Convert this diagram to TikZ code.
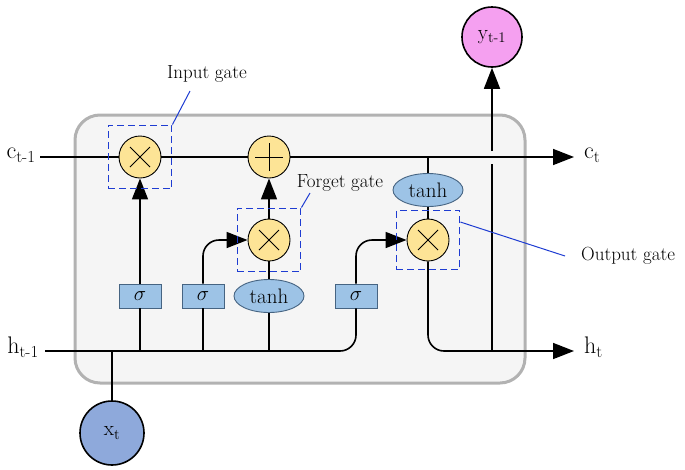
\documentclass[tikz,border=0pt]{standalone}
\usepackage{fontspec}
\usetikzlibrary{arrows.meta,shapes.geometric,fit}
\definecolor{opfill}{RGB}{253,228,150}
\definecolor{sigfill}{RGB}{157,195,230}
\definecolor{sigdraw}{RGB}{70,100,130}
\definecolor{xfill}{RGB}{142,169,219}
\definecolor{yfill}{RGB}{245,160,240}
\definecolor{gateblue}{RGB}{30,60,210}
\begin{document}
\begin{tikzpicture}[x=1pt, y=-1pt, line width=1.6pt,
  font=\fontsize{19}{21}\selectfont,
  arr/.style={-{Triangle[length=21pt,width=16pt]}},
  op/.style={circle, draw, line width=0.9pt, fill=opfill, minimum size=42pt, inner sep=0pt},
  mul/.style={op, path picture={
    \draw[line width=0.8pt] ([shift={(-10pt,-10pt)}]path picture bounding box.center) -- ([shift={(10pt,10pt)}]path picture bounding box.center);
    \draw[line width=0.8pt] ([shift={(-10pt,10pt)}]path picture bounding box.center) -- ([shift={(10pt,-10pt)}]path picture bounding box.center);}},
  add/.style={op, path picture={
    \draw[line width=0.8pt] ([xshift=-14pt]path picture bounding box.center) -- ([xshift=14pt]path picture bounding box.center);
    \draw[line width=0.8pt] ([yshift=-14pt]path picture bounding box.center) -- ([yshift=14pt]path picture bounding box.center);}},
  sig/.style={rectangle, draw=sigdraw, line width=0.9pt, fill=sigfill, minimum width=42pt, minimum height=24pt, inner sep=0pt, font=\fontsize{21}{23}\selectfont},
  th/.style={ellipse, draw=sigdraw, line width=0.9pt, fill=sigfill, minimum width=70pt, minimum height=33pt, inner sep=0pt, font=\fontsize{21}{23}\selectfont},
  gbox/.style={draw=gateblue, dashed, dash pattern=on 7pt off 4pt, line width=1pt, inner sep=10.5pt},
  lead/.style={draw=gateblue, line width=1pt},
  io/.style={font=\fontsize{24}{26}\selectfont}]

\useasboundingbox (0,0) rectangle (685,469);

% cell
\draw[line width=3pt, draw=black!30, fill=black!4, rounded corners=25pt] (75,115) rectangle (525,383);

% nodes
\node[mul] (in) at (140,157) {};
\node[add] (plus) at (269,157) {};
\node[mul] (fg) at (269,240) {};
\node[mul] (out) at (428,240) {};
\node[th] (thc) at (428,190) {tanh};
\node[th] (thh) at (269,296) {tanh};
\node[sig] (s1) at (140,296) {$\sigma$};
\node[sig] (s2) at (203,296) {$\sigma$};
\node[sig] (s3) at (356,296) {$\sigma$};
\node[circle, draw, fill=xfill, minimum size=64pt, inner sep=0pt, font=\fontsize{21}{23}\selectfont] (x) at (112,433) {x\textsubscript{t}};
\node[circle, draw, fill=yfill, minimum size=60pt, inner sep=0pt, font=\fontsize{21}{23}\selectfont] (y) at (492,37) {y\textsubscript{t-1}};

% ends
\coordinate (cin) at (40,157);
\coordinate (cout) at (574,157);
\coordinate (hin) at (45,351);
\coordinate (hout) at (574,351);
\coordinate (ya) at (492,351);
\coordinate (yb) at (492,164);
\coordinate (yc) at (492,151);

% labels
\node[io] (clab) at (21,155) {c\textsubscript{t-1}};
\node[io, right] (ctlab) at (580,155) {c\textsubscript{t}};
\node[io] (hlab) at (23,347) {h\textsubscript{t-1}};
\node[io, right] (htlab) at (580,347) {h\textsubscript{t}};

% cell state
\draw (cin) -- (in);
\draw (in) -- (plus);
\draw[arr] (plus) -- (cout);

% hidden state
\draw[rounded corners=16pt] (hin) -- (s3.south |- hin) -- (s3.south);
\draw (x) -- (x |- hin);
\draw (s1 |- hin) -- (s1);
\draw (s2 |- hin) -- (s2);
\draw (thh |- hin) -- (thh);

% gates
\draw[arr] (s1) -- (in);
\draw[arr, rounded corners=16pt] (s2.north) -- (s2.north |- fg) -- (fg);
\draw (thh) -- (fg);
\draw[arr] (fg) -- (plus);
\draw[arr, rounded corners=16pt] (s3.north) -- (s3.north |- out) -- (out);
\draw (thc.north) -- (thc.north |- cin);
\draw (thc) -- (out);
\draw[arr, rounded corners=16pt] (out) -- (out |- hout) -- (hout);

% output
\draw (ya) -- (yb);
\draw[arr] (yc) -- (y);

% gate boxes
\node[gbox, fit=(in)] (ingate) {};
\node[gbox, fit=(fg)] (fggate) {};
\node[gbox, fit=(out), inner ysep=8pt] (outgate) {};

\node (inlab) at (207,74) {Input gate};
\node (fglab) at (340,183) {Forget gate};
\node[right] (outlab) at (577,256) {Output gate};
\coordinate (inend) at (190,91);
\coordinate (fgend) at (310,193);
\coordinate (outend) at (565,256);
\draw[lead] (ingate.north east) -- (inend);
\draw[lead] (fggate.north east) -- (fgend);
\draw[lead] ([yshift=-12pt]outgate.north east) -- (outend);

\end{tikzpicture}
\end{document}
